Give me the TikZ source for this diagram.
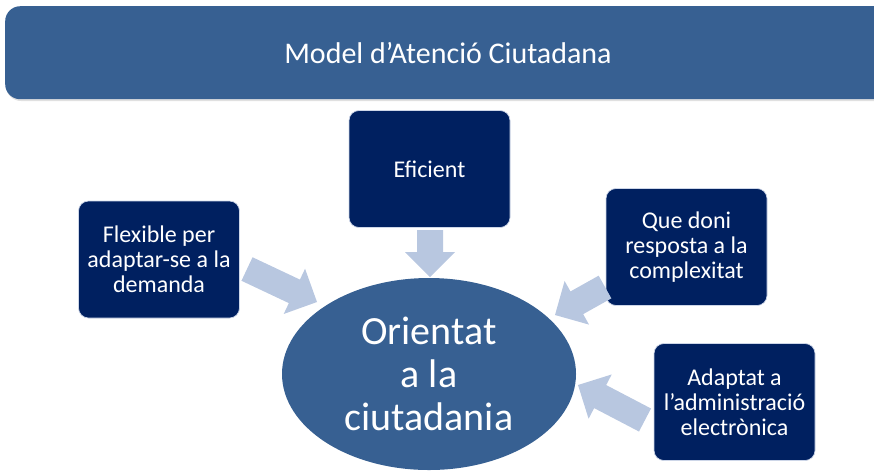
\documentclass[tikz,border=0pt]{standalone}
\usepackage{fontspec}
\setmainfont{Carlito}
\usetikzlibrary{calc,shapes.geometric}
\definecolor{hdr}{RGB}{55,96,146}
\definecolor{boxc}{RGB}{0,32,96}
\definecolor{arrowc}{RGB}{184,199,224}
\definecolor{edgec}{RGB}{205,214,232}
\newcommand\blockarr[3]{%
  \coordinate (#3h) at ($(#2)!25pt!(#1)$);
  \fill[arrowc] ($(#1)!13pt!90:(#2)$) -- ($(#3h)!13pt!90:(#2)$) -- ($(#3h)!25pt!90:(#2)$) -- (#2)
    -- ($(#3h)!25pt!-90:(#2)$) -- ($(#3h)!13pt!-90:(#2)$) -- ($(#1)!13pt!-90:(#2)$) -- cycle;}
\tikzset{
  bluebox/.style={rectangle, rounded corners=10pt, fill=boxc, draw=edgec, line width=0.7pt,
    text=white, align=center, font=\fontsize{24}{25}\selectfont,
    minimum width=161pt, minimum height=117pt, inner sep=0pt},
}
\begin{document}
\begin{tikzpicture}[x=1pt,y=-1pt]
\useasboundingbox (0,0) rectangle (874,475);
\clip (0,0) rectangle (874,475);
% header
\fill[black!12, rounded corners=15pt] (6,8) rectangle (900,101);
\node[fill=hdr, rounded corners=15pt, minimum width=896pt, minimum height=93pt, inner sep=0pt, anchor=north west] (header) at (5,6) {};
\node[text=white, font=\fontsize{30}{36}\selectfont] (title) at (448,53) {Model d’Atenció Ciutadana};
% boxes
\node[bluebox] (flex) at (159,259.5) {Flexible per\\adaptar-se a la\\demanda};
\node[bluebox] (efic) at (429.5,169) {Eficient};
\node[bluebox] (que) at (686.5,247) {Que doni\\resposta a la\\complexitat};
\node[bluebox] (adap) at (734.5,402) {Adaptat a\\l’administració\\electrònica};
% ellipse
\node[ellipse, fill=hdr, minimum width=294pt, minimum height=192pt, inner sep=0pt,
  text=white, align=center, font=\fontsize{40}{43}\selectfont] (center) at (429,374) {Orientat\\a la\\ciutadania};
% arrows
\coordinate (a1t) at (247,269); \coordinate (a1e) at (317,302);
\coordinate (a2t) at (430,230); \coordinate (a2e) at (430,277);
\coordinate (a3t) at (605,287); \coordinate (a3e) at (555,315);
\coordinate (a4t) at (645,420); \coordinate (a4e) at (578,385);
\blockarr{a1t}{a1e}{a1}
\blockarr{a2t}{a2e}{a2}
\blockarr{a3t}{a3e}{a3}
\blockarr{a4t}{a4e}{a4}
\end{tikzpicture}
\end{document}
